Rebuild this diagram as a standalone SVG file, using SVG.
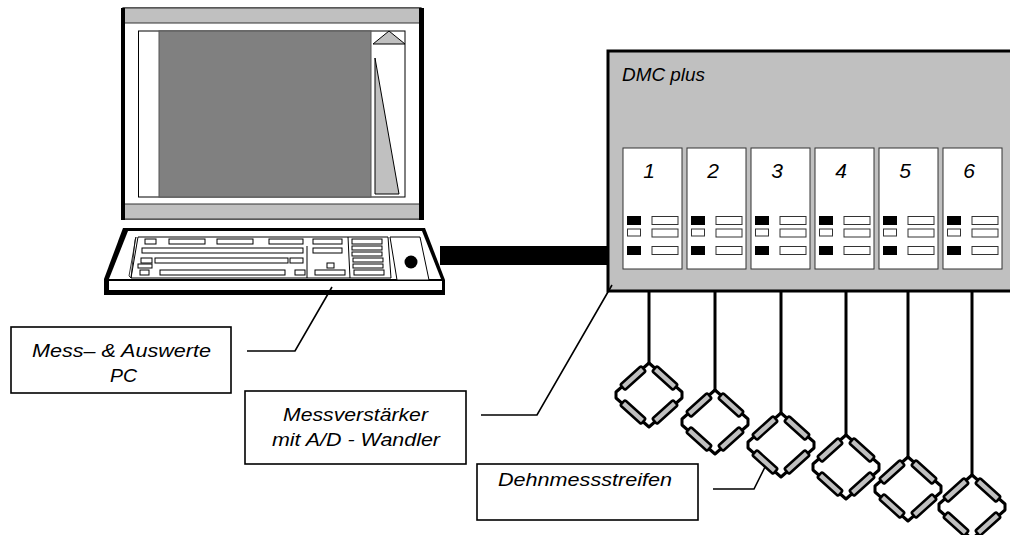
<svg xmlns="http://www.w3.org/2000/svg" width="1010" height="535" viewBox="0 0 1010 535">
  <style>
    .lbl { font-family: "Liberation Sans", Arial, sans-serif; font-style: italic; font-size: 18.5px; fill: #000; }
    .num { font-family: "Liberation Sans", Arial, sans-serif; font-style: italic; font-size: 21px; fill: #000; text-anchor: middle; }
    .box { fill: #fff; stroke: #000; stroke-width: 1.6; }
    .lead { fill: none; stroke: #000; stroke-width: 1.6; }
    .key { fill: #fff; stroke: #000; stroke-width: 1; }
    .slot { fill: #fff; stroke: #333; stroke-width: 1; }
    .led { fill: #000; }
    .ledw { fill: #fff; stroke: #333; stroke-width: 1; }
    .wire { stroke: #000; stroke-width: 3; fill: none; }
    .res { fill: #c0c0c0; stroke: #000; stroke-width: 2.5; }
  </style>
  <defs>
    <!-- full bridge of four strain gauges, centred on its own origin -->
    <g id="bridge">
      <path d="M0,-32 L-33,-3 L-33,3 L0,32 L33,3 L33,-3 Z" fill="none" stroke="#000" stroke-width="3" stroke-linejoin="round"/>
      <rect class="res" x="-14" y="-3.5" width="28" height="7" rx="1.5" transform="translate(-16,-17) rotate(-42)"/>
      <rect class="res" x="-14" y="-3.5" width="28" height="7" rx="1.5" transform="translate(16,-17) rotate(42)"/>
      <rect class="res" x="-14" y="-3.5" width="28" height="7" rx="1.5" transform="translate(-16,17) rotate(42)"/>
      <rect class="res" x="-14" y="-3.5" width="28" height="7" rx="1.5" transform="translate(16,17) rotate(-42)"/>
    </g>
    <!-- amplifier channel face -->
    <g id="channel">
      <rect class="slot" x="0" y="0" width="59" height="121"/>
      <rect class="led" x="4" y="68" width="14" height="9"/>
      <rect class="ledw" x="4.5" y="81" width="13" height="7"/>
      <rect class="led" x="4" y="98" width="14" height="9"/>
      <rect class="ledw" x="29" y="68.5" width="26" height="8"/>
      <rect class="ledw" x="29" y="81" width="26" height="8"/>
      <rect class="ledw" x="29" y="98.5" width="26" height="8"/>
    </g>
  </defs>

  <rect width="1010" height="535" fill="#fff"/>

  <!-- PC monitor -->
  <g id="monitor">
    <rect x="123" y="8" width="298" height="211" fill="#fff" stroke="#000" stroke-width="1"/>
    <rect x="123" y="8" width="298" height="15" fill="#c0c0c0" stroke="#333" stroke-width="1"/>
    <rect x="123" y="204" width="298" height="15" fill="#c0c0c0" stroke="#333" stroke-width="1"/>
    <rect x="121" y="8" width="4" height="212" fill="#000"/>
    <rect x="419" y="8" width="5" height="212" fill="#000"/>
    <rect x="138.5" y="31" width="266.5" height="166" fill="#fff" stroke="#000" stroke-width="1"/>
    <rect x="159" y="31" width="212" height="166" fill="#808080" stroke="#555" stroke-width="1"/>
    <polygon points="373,44 389,31 405,44" fill="#c0c0c0" stroke="#000" stroke-width="1"/>
    <polygon points="375,58 375,194 399,194" fill="#c0c0c0" stroke="#000" stroke-width="1"/>
  </g>

  <!-- cable from keyboard to amplifier -->
  <g id="cable">
    <rect x="440" y="246" width="170" height="19" fill="#000"/>
  </g>

  <!-- keyboard -->
  <g id="keyboard">
    <polygon points="123,228 425,228 445,280 445,295 104,295 104,279" fill="#000"/>
    <polygon points="128,231 422,231 441,279 109,279" fill="#fff"/>
    <rect x="109" y="281" width="333" height="9" fill="#fff"/>
    <polygon points="138,237 388,237 391,278 131,278" fill="#fff" stroke="#000" stroke-width="1"/>
    <polygon points="135,240 136,237 129,276 131,278" fill="none" stroke="#000" stroke-width="0.8"/>
    <line x1="307" y1="246" x2="307" y2="278" stroke="#000" stroke-width="1"/>
    <line x1="348" y1="237" x2="350" y2="278" stroke="#000" stroke-width="1"/>
    <!-- function row -->
    <rect class="key" x="145" y="239" width="11" height="5"/>
    <rect class="key" x="169" y="239" width="36" height="5"/>
    <rect class="key" x="217" y="239" width="36" height="5"/>
    <rect class="key" x="269" y="239" width="34" height="5"/>
    <rect class="key" x="313" y="239" width="29" height="5"/>
    <rect class="key" x="352" y="239" width="30" height="5"/>
    <!-- main block -->
    <rect class="key" x="142" y="248" width="161" height="5"/>
    <rect class="key" x="141" y="258" width="11" height="5"/>
    <rect class="key" x="155" y="258" width="133" height="5"/>
    <rect class="key" x="290" y="258" width="13" height="5"/>
    <rect class="key" x="138" y="264" width="14" height="4"/>
    <rect class="key" x="140" y="270" width="9" height="5"/>
    <rect class="key" x="160" y="270" width="125" height="5"/>
    <rect class="key" x="295" y="270" width="10" height="5"/>
    <!-- cursor block -->
    <rect class="key" x="313" y="248" width="29" height="5"/>
    <rect class="key" x="327" y="263" width="7" height="5"/>
    <rect class="key" x="315" y="270" width="30" height="5"/>
    <!-- number pad -->
    <rect class="key" x="352" y="246" width="30" height="4"/>
    <rect class="key" x="352" y="252" width="30" height="4"/>
    <rect class="key" x="353" y="258" width="30" height="4"/>
    <rect class="key" x="353" y="264" width="30" height="4"/>
    <rect class="key" x="354" y="270" width="30" height="5"/>
    <!-- trackball -->
    <polygon points="390,237 420,237 429,280 397,280" fill="#fff" stroke="#000" stroke-width="1"/>
    <circle cx="411" cy="262" r="6.5" fill="#000"/>
  </g>

  <!-- DMC plus amplifier -->
  <g id="dmc">
    <rect x="608" y="51" width="420" height="240" fill="#c0c0c0" stroke="#000" stroke-width="3"/>
    <text class="lbl" x="622" y="81" font-size="19" textLength="83" lengthAdjust="spacingAndGlyphs">DMC plus</text>
  </g>
  <g id="channel-1"><use href="#channel" x="623" y="148"/><text class="num" x="649" y="178">1</text></g>
  <g id="channel-2"><use href="#channel" x="687" y="148"/><text class="num" x="713" y="178">2</text></g>
  <g id="channel-3"><use href="#channel" x="751" y="148"/><text class="num" x="777" y="178">3</text></g>
  <g id="channel-4"><use href="#channel" x="815" y="148"/><text class="num" x="841" y="178">4</text></g>
  <g id="channel-5"><use href="#channel" x="879" y="148"/><text class="num" x="905" y="178">5</text></g>
  <g id="channel-6"><use href="#channel" x="943" y="148"/><text class="num" x="969" y="178">6</text></g>

  <!-- strain gauge bridges -->
  <g id="gauge-1"><use href="#bridge" x="649" y="395"/></g>
  <g id="gauge-2"><use href="#bridge" x="715" y="422"/></g>
  <g id="gauge-3"><use href="#bridge" x="781" y="445"/></g>
  <g id="gauge-4"><use href="#bridge" x="846" y="467"/></g>
  <g id="gauge-5"><use href="#bridge" x="908" y="489"/></g>
  <g id="gauge-6"><use href="#bridge" x="972" y="507"/></g>

  <!-- labels -->
  <g id="label-pc">
    <rect class="box" x="11" y="327" width="220" height="66"/>
    <text class="lbl" x="32" y="357" textLength="179" lengthAdjust="spacingAndGlyphs">Mess– &amp; Auswerte</text>
    <text class="lbl" x="110" y="382" textLength="27" lengthAdjust="spacingAndGlyphs">PC</text>
  </g>
  <g id="label-amp">
    <rect class="box" x="245" y="391" width="221" height="73"/>
    <text class="lbl" x="283" y="421" textLength="145" lengthAdjust="spacingAndGlyphs">Messverstärker</text>
    <text class="lbl" x="272" y="446" textLength="168" lengthAdjust="spacingAndGlyphs">mit A/D - Wandler</text>
  </g>
  <g id="label-gauge">
    <rect class="box" x="477" y="464" width="221" height="56"/>
    <text class="lbl" x="498" y="486" textLength="174" lengthAdjust="spacingAndGlyphs">Dehnmessstreifen</text>
  </g>

  <!-- connectors -->
  <g id="connectors">
    <line class="wire" x1="649" y1="291" x2="649" y2="363"/>
    <line class="wire" x1="715" y1="291" x2="715" y2="390"/>
    <line class="wire" x1="781" y1="291" x2="781" y2="413"/>
    <line class="wire" x1="846" y1="291" x2="846" y2="435"/>
    <line class="wire" x1="908" y1="291" x2="908" y2="457"/>
    <line class="wire" x1="972" y1="291" x2="972" y2="475"/>
    <polyline class="lead" points="247,351 295,351 332,287"/>
    <polyline class="lead" points="481,415 537,415 612,285"/>
    <polyline class="lead" points="713,489 754,489 765,467"/>
  </g>
</svg>
